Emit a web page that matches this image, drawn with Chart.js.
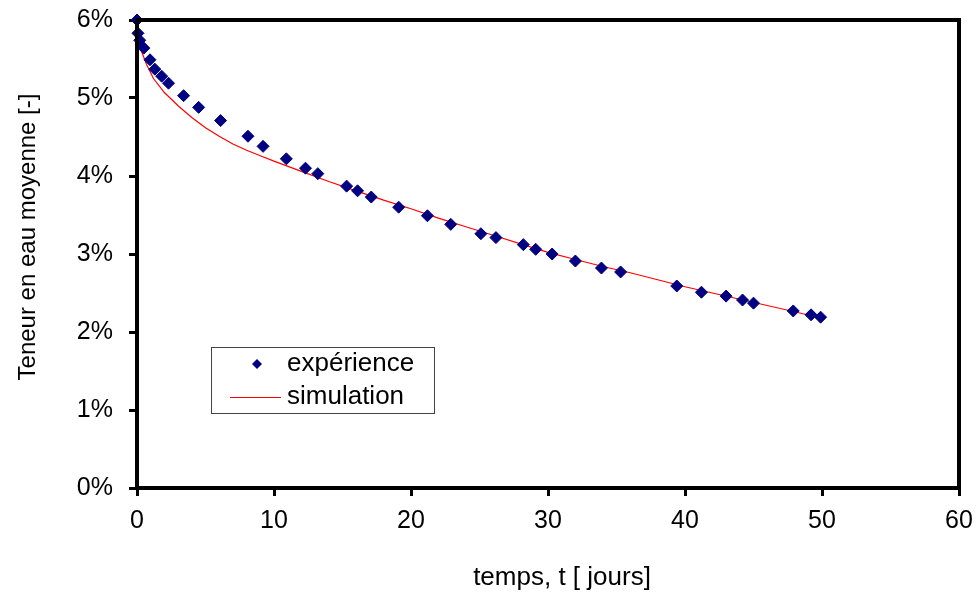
<!DOCTYPE html>
<html lang="fr">
<head>
<meta charset="UTF-8">
<title>Teneur en eau moyenne</title>
<style>
  html, body { margin: 0; padding: 0; background: #fff; }
  #wrap { width: 976px; height: 594px; }
</style>
</head>
<body>
<div id="wrap"><canvas id="plot" width="976" height="594"></canvas></div>
<script src="https://cdn.jsdelivr.net/npm/chart.js"></script>
<script>
// mesures (jours, %)
const expDays = [0, 0.07, 0.2, 0.5, 0.95, 1.3, 1.8, 2.3, 3.4, 4.5, 6.1, 8.1, 9.2, 10.9, 12.3, 13.2,
  15.3, 16.1, 17.1, 19.1, 21.2, 22.9, 25.1, 26.2, 28.2, 29.1, 30.3, 32.0, 33.9, 35.3,
  39.4, 41.2, 43.0, 44.2, 45.0, 47.9, 49.2, 49.9];
const expWater = [6.0, 5.83, 5.74, 5.64, 5.49, 5.37, 5.28, 5.19, 5.03, 4.88, 4.71, 4.51, 4.38, 4.22, 4.10, 4.03,
  3.87, 3.81, 3.73, 3.60, 3.49, 3.38, 3.26, 3.21, 3.12, 3.06, 3.00, 2.91, 2.82, 2.77,
  2.59, 2.51, 2.46, 2.41, 2.37, 2.27, 2.22, 2.19];

// modele
const simDays = [0, 0.1, 0.35, 0.7, 1.2, 2, 3, 4, 5, 6, 7, 8, 9, 10, 12, 14, 16, 18, 20,
  22, 24, 26, 28, 30, 32, 34, 36, 38, 40, 42, 44, 46, 48, 49.9];
const simWater = [6.0, 5.8, 5.59, 5.43, 5.25, 5.07, 4.9, 4.75, 4.62, 4.51, 4.41, 4.33, 4.26, 4.19, 4.06, 3.93, 3.81, 3.69, 3.58,
  3.46, 3.35, 3.24, 3.13, 3.02, 2.93, 2.84, 2.76, 2.67, 2.58, 2.50, 2.42, 2.34, 2.26, 2.18];

const xMin = 0, xMax = 60, xStep = 10;
const yMin = 0, yMax = 6, yStep = 1;
const xTitle = 'temps, t [ jours]';
const yTitle = 'Teneur en eau moyenne [-]';

const fontFamily = '"Liberation Sans", Arial, sans-serif';
const navy = '#000080';

const toPoints = (xs, ys) => xs.map((x, i) => ({ x: x, y: ys[i] }));

// cadre noir autour de la zone de trace
const frame = {
  id: 'frame',
  afterDatasetsDraw(chart) {
    const { ctx, chartArea: a } = chart;
    ctx.save();
    ctx.strokeStyle = '#000';
    ctx.lineWidth = 4;
    ctx.strokeRect(a.left, a.top, a.right - a.left, a.bottom - a.top);
    ctx.restore();
  }
};

// titres des axes (un peu decentres comme dans l'original)
const axisTitles = {
  id: 'axisTitles',
  afterDraw(chart) {
    const { ctx, chartArea: a } = chart;
    ctx.save();
    ctx.fillStyle = '#000';
    ctx.textAlign = 'center';
    ctx.textBaseline = 'middle';
    ctx.font = '26px ' + fontFamily;
    ctx.fillText(xTitle, (a.left + a.right) / 2 + 14, 578);
    ctx.font = '24px ' + fontFamily;
    ctx.translate(28, (a.top + a.bottom) / 2 - 17);
    ctx.rotate(-Math.PI / 2);
    ctx.fillText(yTitle, 0, 0);
    ctx.restore();
  }
};

// legende encadree dans la zone de trace
const boxLegend = {
  id: 'boxLegend',
  afterDraw(chart) {
    const { ctx, chartArea: a } = chart;
    const x0 = a.left + 74, y0 = a.top + 327, w = 223, h = 66;
    ctx.save();
    ctx.fillStyle = '#fff';
    ctx.fillRect(x0, y0, w, h);
    ctx.strokeStyle = '#444';
    ctx.lineWidth = 1;
    ctx.strokeRect(x0 + 0.5, y0 + 0.5, w, h);

    const ds = chart.data.datasets;
    // marqueur
    ctx.fillStyle = ds[0].backgroundColor;
    ctx.beginPath();
    const mx = x0 + 46, my = y0 + 17, r = 5;
    ctx.moveTo(mx, my - r); ctx.lineTo(mx + r, my); ctx.lineTo(mx, my + r); ctx.lineTo(mx - r, my);
    ctx.closePath();
    ctx.fill();
    // trait
    ctx.strokeStyle = ds[1].borderColor;
    ctx.beginPath();
    ctx.moveTo(x0 + 19, y0 + 50.5);
    ctx.lineTo(x0 + 70, y0 + 50.5);
    ctx.stroke();

    ctx.fillStyle = '#000';
    ctx.font = '26px ' + fontFamily;
    ctx.textBaseline = 'middle';
    ctx.fillText(ds[0].label, x0 + 76, my);
    ctx.fillText(ds[1].label, x0 + 76, y0 + 50);
    ctx.restore();
  }
};

new Chart(document.getElementById('plot'), {
  type: 'scatter',
  data: {
    datasets: [
      {
        label: 'expérience',
        data: toPoints(expDays, expWater),
        pointStyle: 'rectRot',
        pointRadius: 6,
        pointHoverRadius: 6,
        backgroundColor: navy,
        borderColor: navy,
        borderWidth: 1,
        showLine: false,
        clip: false
      },
      {
        label: 'simulation',
        data: toPoints(simDays, simWater),
        showLine: true,
        borderColor: '#ff0000',
        backgroundColor: '#ff0000',
        borderWidth: 1.2,
        pointRadius: 0,
        tension: 0
      }
    ]
  },
  options: {
    responsive: false,
    animation: false,
    events: [],
    layout: { padding: { top: 20, right: 17, left: 0, bottom: 0 } },
    plugins: {
      legend: { display: false },
      tooltip: { enabled: false }
    },
    scales: {
      x: {
        type: 'linear',
        min: xMin,
        max: xMax,
        afterFit(scale) {
          scale.height = 106;
          scale.paddingLeft = 0;
          scale.paddingRight = 0;
        },
        grid: {
          drawOnChartArea: false,
          drawTicks: true,
          tickLength: 8,
          tickWidth: 3,
          tickColor: '#000'
        },
        border: { display: false },
        ticks: {
          stepSize: xStep,
          padding: 10,
          color: '#000',
          maxRotation: 0,
          font: { family: fontFamily, size: 25 }
        },
        title: { display: false, text: xTitle }
      },
      y: {
        min: yMin,
        max: yMax,
        afterFit(scale) {
          scale.width = 137;
          scale.paddingTop = 0;
          scale.paddingBottom = 0;
        },
        grid: {
          drawOnChartArea: false,
          drawTicks: true,
          tickLength: 8,
          tickWidth: 3,
          tickColor: '#000'
        },
        border: { display: false },
        ticks: {
          stepSize: yStep,
          padding: 16,
          color: '#000',
          font: { family: fontFamily, size: 25 },
          callback: (v) => v + '%'
        },
        title: { display: false, text: yTitle }
      }
    }
  },
  plugins: [frame, axisTitles, boxLegend]
});
</script>
</body>
</html>
